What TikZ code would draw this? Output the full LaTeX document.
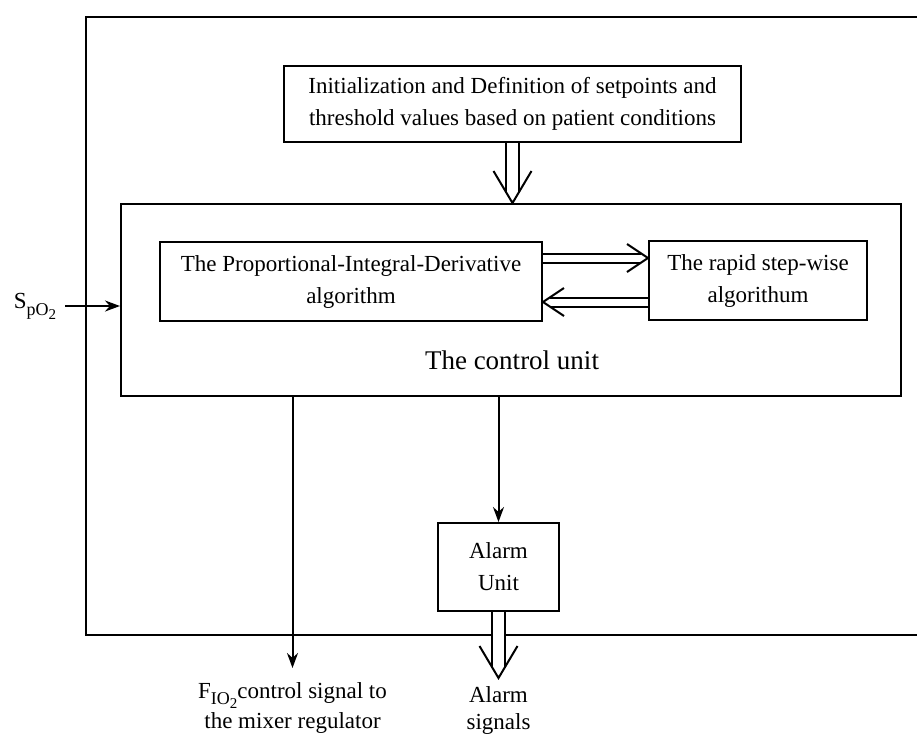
\documentclass[tikz,border=0pt]{standalone}
\usepackage{fontspec}
\setmainfont{Liberation Serif}
\usetikzlibrary{arrows.meta,positioning,decorations.markings}

\newcommand{\lowtxt}[2]{\raisebox{-#1}{\fontsize{9}{9}\selectfont #2}}

\tikzset{
	box/.style={draw, inner sep=0pt, align=center, font=\fontsize{11.5}{16}\selectfont},
	lbl/.style={inner sep=0pt, align=center, font=\fontsize{11.5}{15}\selectfont},
	sig/.style={-{Stealth[length=7.5pt,width=5.5pt]}},
	head/.style={-, shorten >=0pt, shorten <=0pt},
	dbl/.style={double, postaction={decorate}},
	bigdbl/.style={dbl, double distance=5.5pt, shorten >=5.5pt,
		decoration={markings, mark=at position 1 with {\draw[head] (-16pt,9.5pt) -- (0pt,0pt) -- (-16pt,-9.5pt);}}},
	smalldbl/.style={dbl, double distance=3.5pt, shorten >=3.4pt,
		decoration={markings, mark=at position 1 with {\draw[head] (-10.5pt,7pt) -- (0pt,0pt) -- (-10.5pt,-7pt);}}},
}

\begin{document}
\begin{tikzpicture}[x=0.5pt, y=-0.5pt, line width=1pt]
	\useasboundingbox (0,0) rectangle (917,736);
	\draw (920,17) -| (86,635) -- (920,635);

	\node (init) [box, minimum width=228.5pt, minimum height=38pt] at (512.5,104)
		{Initialization and Definition of setpoints and\\threshold values based on patient conditions};
	\node (ctrl) [box, minimum width=390pt, minimum height=96pt] at (511,300) {};
	\node (pid) [box, minimum width=191pt, minimum height=39.5pt] at (351,281.5)
		{The Proportional-Integral-Derivative\\algorithm};
	\node (rapid) [box, minimum width=109pt, minimum height=39.5pt] at (758,280.5)
		{The rapid step-wise\\algorithum};
	\node (ctrltxt) [lbl, font=\fontsize{13.5}{16}\selectfont] at (512,360) {The control unit};
	\node (alarm) [box, minimum width=60.5pt, minimum height=44pt] at (498.5,567) {Alarm\\Unit};
	\node (spo2) [lbl, inner xsep=4pt] at (35,306)
		{S\lowtxt{3.5pt}{pO\lowtxt{2pt}{\fontsize{7.5}{7.5}\selectfont 2}}};
	\node (fio2) [lbl, inner ysep=7pt, anchor=north] at (292.5,668)
		{F\lowtxt{3pt}{IO\lowtxt{2pt}{\fontsize{7.5}{7.5}\selectfont 2}}control signal to\\the mixer regulator};
	\node (alarmsig) [lbl, font=\fontsize{11.5}{13.5}\selectfont, inner ysep=4pt, anchor=north] at (498.5,678)
		{Alarm\\signals};

	\draw[sig] (spo2) -- (spo2 -| ctrl.west);
	\draw[sig] (ctrl.south -| fio2.north) -- (fio2.north);
	\draw[sig] (ctrl.south -| alarm.north) -- (alarm.north);
	\draw[bigdbl] (init.south) -- (init.south |- ctrl.north);
	\draw[bigdbl] (alarm.south) -- (alarmsig.north);
	\draw[smalldbl] ([yshift=11.75pt]pid.east) -- ([yshift=11.75pt]pid.east -| rapid.west);
	\draw[smalldbl] ([yshift=-10.25pt]pid.east -| rapid.west) -- ([yshift=-10.25pt]pid.east);
\end{tikzpicture}
\end{document}
